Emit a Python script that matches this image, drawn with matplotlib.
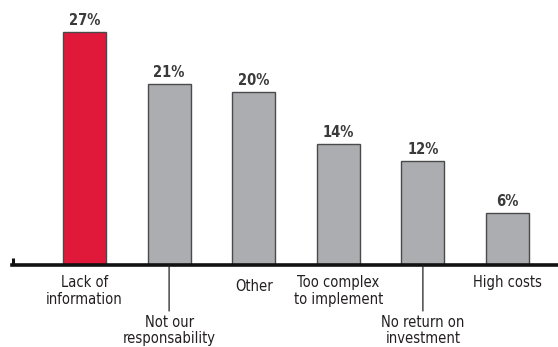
import matplotlib.pyplot as plt
from matplotlib import font_manager

categories = ["Lack of\ninformation", "Not our\nresponsability", "Other",
              "Too complex\nto implement", "No return on\ninvestment", "High costs"]
values = [27, 21, 20, 14, 12, 6]
# labels hanging below the axis on a leader line
dropped = [False, True, False, False, True, False]

RED = "#e0193a"
GREY = "#acadb0"
EDGE = "#4a4a4a"
TEXT = "#231f20"

family = "DejaVu Sans"
stretch = "condensed" if any("Condensed" in f.fname for f in font_manager.fontManager.ttflist
                             if f.name == "DejaVu Sans") else "normal"

fig = plt.figure(figsize=(5.58, 3.47), dpi=100)
W, H = 558, 347
# axes box in pixels: left 12, baseline 265 from top, 259 px tall
ax = fig.add_axes([12 / W, (H - 265) / H, 546 / W, 259 / H])

colors = [RED] + [GREY] * (len(values) - 1)
x = list(range(len(values)))
ax.bar(x, values, width=0.51, color=colors, edgecolor=EDGE, linewidth=1.0, zorder=2)

ax.set_xlim(-0.857, 5.597)
ax.set_ylim(0, 30)

for s in ["top", "right", "left"]:
    ax.spines[s].set_visible(False)
ax.spines["bottom"].set_linewidth(2.6)
ax.spines["bottom"].set_color("#111111")
ax.set_xticks([])
ax.set_yticks([])

# small upturned end on the left of the axis line
ax.plot([-0.857 + 0.012, -0.857 + 0.012], [0, 0.8], color="#111111", lw=2.2,
        clip_on=False, solid_capstyle="butt")

for xi, v in zip(x, values):
    ax.annotate(f"{v}%", (xi, v), xytext=(0, 4), textcoords="offset pixels",
                ha="center", va="bottom", fontsize=10.5, fontweight="bold",
                color="#3a3a3a", family=family, fontstretch=stretch)

for xi, lab, drop in zip(x, categories, dropped):
    if drop:
        ax.annotate("", (xi, 0), xycoords=("data", "axes fraction"),
                    xytext=(xi, -46 / 259), textcoords=("data", "axes fraction"),
                    arrowprops=dict(arrowstyle="-", color=TEXT, lw=0.9,
                                    shrinkA=0, shrinkB=0))
        off, ls = -50, 1.05
    else:
        off = -14 if lab == "Other" else -10
        ls = 1.2
    ax.annotate(lab, (xi, 0), xycoords=("data", "axes fraction"),
                xytext=(0, off), textcoords="offset pixels",
                ha="center", va="top", fontsize=10.5, color=TEXT,
                linespacing=ls, family=family, fontstretch=stretch)

fig.savefig("out.png", dpi=100)
